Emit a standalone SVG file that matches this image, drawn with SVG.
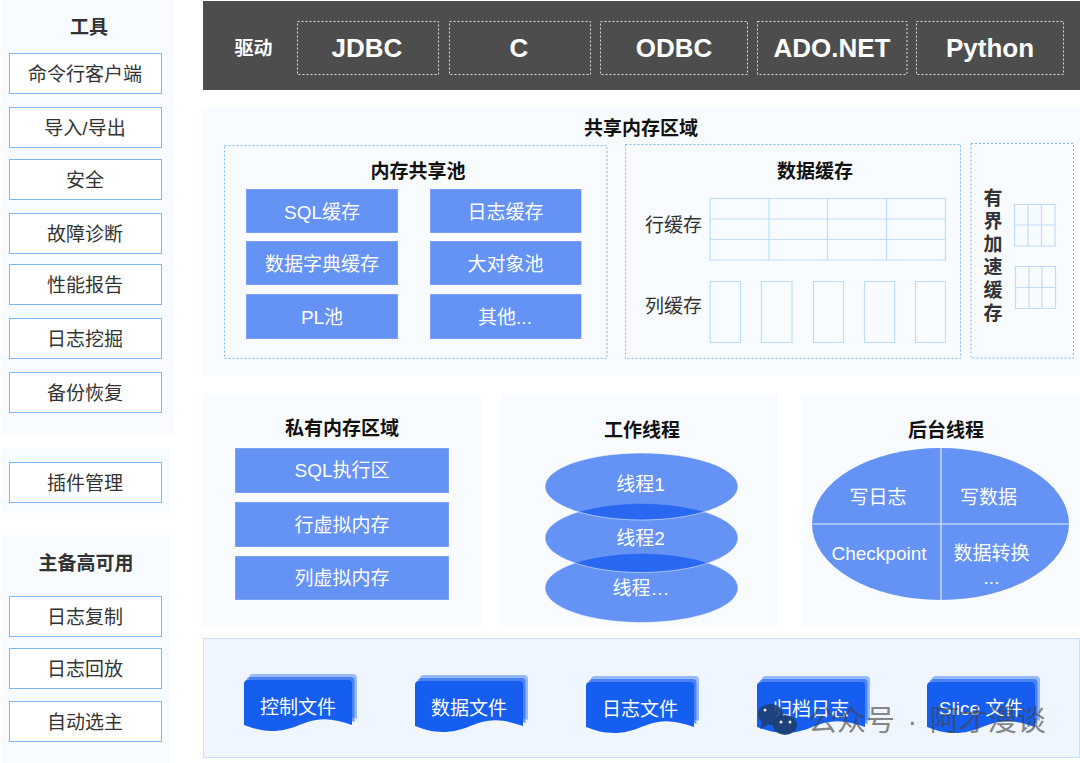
<svg xmlns="http://www.w3.org/2000/svg" width="1080" height="763" viewBox="0 0 1080 763" xmlns:xlink="http://www.w3.org/1999/xlink">
<style>
text{font-family:"Liberation Sans","Noto Sans CJK SC",sans-serif;text-anchor:middle}
.panel{fill:#f8fbff}
.t{font-size:19px;font-weight:bold;fill:#111}
.t2{font-size:19px;font-weight:bold;fill:#333}
.lb{fill:#fff;stroke:#7fb8f8;stroke-width:1}
.lt{font-size:19px;fill:#333}
.bb{fill:#6492f5;stroke:#fff;stroke-opacity:.3;stroke-width:1}
.wt{font-size:19px;fill:#fff}
.dt{fill:none;stroke:#7dbcf8;stroke-width:1;stroke-dasharray:2 2}
.dw{fill:none;stroke:#ddd;stroke-width:1;stroke-dasharray:2 2}
.dr{font-size:26px;font-weight:bold;fill:#fff}
.g{fill:none;stroke:#bfdcfc;stroke-width:1.200}
.e{fill:#024cee;fill-opacity:.6;stroke:#fff;stroke-opacity:.5;stroke-width:1}
</style>
<defs>
<path id="docf" d="M0 4Q0 0 4 0H104Q108 0 108 4V45C96 41 85 38 72 40C58 42 48 51 28 51C17 51 8 48 0 45Z"/>
<g id="doc">
<use xlink:href="#docf" href="#docf" x="5" y="-6" fill="#155eef" fill-opacity=".4"/>
<use xlink:href="#docf" href="#docf" x="2.500" y="-3" fill="#155eef" fill-opacity=".6"/>
<use xlink:href="#docf" href="#docf" fill="#155eef"/>
</g>
</defs>
<rect width="1080" height="763" fill="#fff"/>

<g id="tools">
<rect class="panel" x="3" y="0" width="171" height="434"/>
<text class="t2" x="89" y="34">工具</text>
<g id="tool-1"><rect class="lb" x="9.500" y="53.500" width="152" height="40"/><text class="lt" x="85" y="80.700">命令行客户端</text></g>
<g id="tool-2"><rect class="lb" x="9.500" y="107.500" width="152" height="40"/><text class="lt" x="85" y="134.700">导入/导出</text></g>
<g id="tool-3"><rect class="lb" x="9.500" y="159.500" width="152" height="40"/><text class="lt" x="85" y="186.700">安全</text></g>
<g id="tool-4"><rect class="lb" x="9.500" y="213.500" width="152" height="40"/><text class="lt" x="85" y="240.700">故障诊断</text></g>
<g id="tool-5"><rect class="lb" x="9.500" y="264.500" width="152" height="40"/><text class="lt" x="85" y="291.700">性能报告</text></g>
<g id="tool-6"><rect class="lb" x="9.500" y="318.500" width="152" height="40"/><text class="lt" x="85" y="345.700">日志挖掘</text></g>
<g id="tool-7"><rect class="lb" x="9.500" y="372.500" width="152" height="40"/><text class="lt" x="85" y="399.700">备份恢复</text></g>
</g>
<g id="plugin">
<rect class="panel" x="3" y="448" width="168" height="65"/>
<rect class="lb" x="9.500" y="462.500" width="152" height="40"/><text class="lt" x="85" y="489.700">插件管理</text>
</g>
<g id="ha">
<rect class="panel" x="3" y="535" width="168" height="228"/>
<text class="t2" x="86" y="570">主备高可用</text>
<g id="ha-1"><rect class="lb" x="9.500" y="596.500" width="152" height="40"/><text class="lt" x="85" y="623.700">日志复制</text></g>
<g id="ha-2"><rect class="lb" x="9.500" y="648.500" width="152" height="40"/><text class="lt" x="85" y="675.700">日志回放</text></g>
<g id="ha-3"><rect class="lb" x="9.500" y="701.500" width="152" height="40"/><text class="lt" x="85" y="728.700">自动选主</text></g>
</g>

<g id="drivers">
<rect x="203" y="1" width="877" height="89" fill="#4d4d4d"/>
<text x="253.500" y="54.500" font-size="19" font-weight="bold" fill="#fff">驱动</text>
<g id="drv-jdbc"><rect class="dw" x="297.500" y="21.500" width="141" height="53"/><text class="dr" x="367" y="57">JDBC</text></g>
<g id="drv-c"><rect class="dw" x="449.500" y="21.500" width="141" height="53"/><text class="dr" x="519" y="57">C</text></g>
<g id="drv-odbc"><rect class="dw" x="600.500" y="21.500" width="147" height="53"/><text class="dr" x="674" y="57">ODBC</text></g>
<g id="drv-ado"><rect class="dw" x="757.500" y="21.500" width="149.500" height="53"/><text class="dr" x="832" y="57">ADO.NET</text></g>
<g id="drv-py"><rect class="dw" x="916.500" y="21.500" width="147" height="53"/><text class="dr" x="990" y="57">Python</text></g>
</g>

<g id="shared">
<rect class="panel" x="203" y="108" width="877" height="268"/>
<text class="t" x="641" y="135">共享内存区域</text>
<g id="pool">
<rect class="dt" x="224.500" y="145.500" width="382.500" height="213"/>
<text class="t" x="418" y="178">内存共享池</text>
<g id="p1"><rect class="bb" x="246" y="189" width="152" height="44"/><text class="wt" x="322" y="218.500">SQL缓存</text></g>
<g id="p2"><rect class="bb" x="430" y="189" width="151.500" height="44"/><text class="wt" x="505.500" y="218.500">日志缓存</text></g>
<g id="p3"><rect class="bb" x="246" y="241" width="152" height="44"/><text class="wt" x="322" y="270.500">数据字典缓存</text></g>
<g id="p4"><rect class="bb" x="430" y="241" width="151.500" height="44"/><text class="wt" x="505.500" y="270.500">大对象池</text></g>
<g id="p5"><rect class="bb" x="246" y="294" width="152" height="45"/><text class="wt" x="322" y="324">PL池</text></g>
<g id="p6"><rect class="bb" x="430" y="294" width="151.500" height="45"/><text class="wt" x="505" y="324">其他...</text></g>
</g>
<g id="data-cache">
<rect class="dt" x="625.500" y="144.500" width="335" height="214"/>
<text class="t" x="815" y="178">数据缓存</text>
<text class="lt" x="673.500" y="232">行缓存</text>
<text class="lt" x="673.500" y="313">列缓存</text>
<path class="g" d="M710 198.500H945.500V260H710ZM710 219H945.500M710 239.500H945.500M769 198.500V260M827.500 198.500V260M886.500 198.500V260"/>
<path class="g" d="M710 281.500h30.500v61h-30.500zM761.500 281.500h30.500v61h-30.500zM813.500 281.500h30v61h-30zM864.500 281.500h30v61h-30zM915.500 281.500h30v61h-30z"/>
</g>
<g id="bounded">
<rect class="dt" x="971" y="143.500" width="102.500" height="214.500"/>
<text font-size="19" font-weight="bold" fill="#333"><tspan x="993" y="205">有</tspan><tspan x="993" y="228">界</tspan><tspan x="993" y="251">加</tspan><tspan x="993" y="273.500">速</tspan><tspan x="993" y="296.500">缓</tspan><tspan x="993" y="319.500">存</tspan></text>
<path class="g" d="M1014.500 204.500H1055V246H1014.500ZM1014.500 225H1055M1028 204.500V246M1041.500 204.500V246"/>
<path class="g" d="M1015.500 266.500H1055.500V308.500H1015.500ZM1015.500 287.500H1055.500M1029 266.500V308.500M1042 266.500V308.500"/>
</g>
</g>

<g id="private">
<rect class="panel" x="203" y="394" width="278" height="232"/>
<text class="t" x="342" y="434.500">私有内存区域</text>
<g id="m1"><rect class="bb" x="235" y="448" width="214" height="45"/><text class="wt" x="342" y="477">SQL执行区</text></g>
<g id="m2"><rect class="bb" x="235" y="502" width="214" height="45"/><text class="wt" x="342" y="531.500">行虚拟内存</text></g>
<g id="m3"><rect class="bb" x="235" y="556" width="214" height="44"/><text class="wt" x="342" y="584.500">列虚拟内存</text></g>
</g>

<g id="workers">
<rect class="panel" x="500" y="394" width="278" height="232"/>
<text class="t" x="642" y="436.500">工作线程</text>
<g id="w3"><ellipse class="e" cx="641.500" cy="588" rx="96.500" ry="34.500"/></g>
<g id="w2"><ellipse class="e" cx="641.500" cy="538" rx="96.500" ry="34.500"/></g>
<g id="w1"><ellipse class="e" cx="641.500" cy="486.500" rx="96.500" ry="33.500"/></g>
<text class="wt" x="640.500" y="491">线程1</text>
<text class="wt" x="640.500" y="544.500">线程2</text>
<text class="wt" x="641" y="594.500">线程…</text>
</g>

<g id="background">
<rect class="panel" x="801" y="394" width="279" height="232"/>
<text class="t" x="946" y="436.500">后台线程</text>
<ellipse cx="940.500" cy="524" rx="128.500" ry="76" fill="#6492f5"/>
<path d="M941 448V600M812 524H1069" stroke="#e4edfd" stroke-width="1.200" fill="none"/>
<text class="wt" x="878" y="504">写日志</text>
<text class="wt" x="988.500" y="504">写数据</text>
<text class="wt" x="879" y="559.500">Checkpoint</text>
<text class="wt" x="991.500" y="559.500">数据转换</text>
<text class="wt" x="991.500" y="584">...</text>
</g>

<g id="files">
<rect x="203.500" y="638.500" width="876" height="119" fill="#eff6ff" stroke="#c9e1ff"/>
<g id="f1"><use xlink:href="#doc" href="#doc" x="244" y="680"/><text class="wt" x="298" y="713.500">控制文件</text></g>
<g id="f2"><use xlink:href="#doc" href="#doc" x="415" y="681"/><text class="wt" x="469" y="714.500">数据文件</text></g>
<g id="f3"><use xlink:href="#doc" href="#doc" x="586" y="682"/><text class="wt" x="640" y="715.500">日志文件</text></g>
<g id="f4"><use xlink:href="#doc" href="#doc" x="757" y="682"/><text class="wt" x="811" y="715.500">归档日志</text></g>
<g id="f5"><use xlink:href="#doc" href="#doc" x="927" y="682"/><text class="wt" x="981" y="715">Slice 文件</text></g>
</g>

<g id="watermark">
<ellipse cx="770.500" cy="714.500" rx="12.500" ry="10.500" fill="#1f3f73" fill-opacity=".9"/>
<path d="M762 722l-2 7 8-4z" fill="#1f3f73" fill-opacity=".9"/>
<ellipse cx="785" cy="725" rx="12" ry="10" fill="#1f3f73" fill-opacity=".95"/>
<circle cx="765" cy="710" r="1.500" fill="#eee"/><circle cx="781" cy="722" r="1.500" fill="#eee"/><circle cx="790" cy="722" r="1.500" fill="#eee"/>
<text x="808" y="731" font-size="29" fill="#444" fill-opacity=".65" style="text-anchor:start" word-spacing="4.500">公众号 · 阿才漫谈</text>
</g>
</svg>
